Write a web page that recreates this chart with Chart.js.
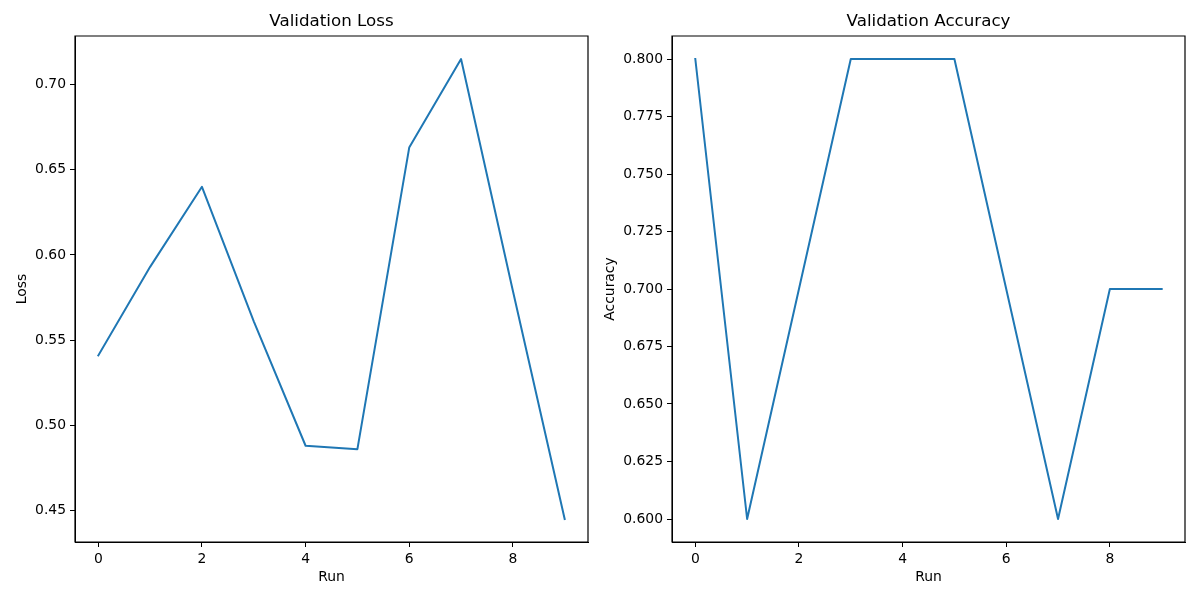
<!DOCTYPE html>
<html>
<head>
<meta charset="utf-8">
<script src="https://cdn.jsdelivr.net/npm/chart.js@4"></script>
<style>
    body { margin: 0; background: #fff; overflow: hidden; }
    .panel { position: absolute; top: 0; width: 600px; height: 600px; }
</style>
</head>
<body>
<div class="panel" style="left:0"><canvas id="lossChart"></canvas></div>
<div class="panel" style="left:600px"><canvas id="accChart"></canvas></div>
<script>
const runs = [0, 1, 2, 3, 4, 5, 6, 7, 8, 9];
const lossValues = [0.541, 0.593, 0.640, 0.561, 0.488, 0.486, 0.663, 0.715, 0.579, 0.445];
const accValues = [0.8, 0.6, 0.7, 0.8, 0.8, 0.8, 0.7, 0.6, 0.7, 0.7];
const runTicks = [0, 2, 4, 6, 8];
const lossTicks = [0.45, 0.50, 0.55, 0.60, 0.65, 0.70];
const accTicks = [0.600, 0.625, 0.650, 0.675, 0.700, 0.725, 0.750, 0.775, 0.800];

const font = 'DejaVu Sans';

// draws the box round the plot, the title and the axis labels like matplotlib does
const framePlugin = {
    id: 'frame',
    afterDraw(chart, args, opts) {
        const { ctx, chartArea: a } = chart;
        const l = Math.round(a.left), r = Math.round(a.right);
        const t = Math.round(a.top), b = Math.round(a.bottom);
        ctx.save();
        ctx.strokeStyle = '#000';
        ctx.lineWidth = 1.2;
        ctx.beginPath();
        ctx.moveTo(l, t);
        ctx.lineTo(r, t);
        ctx.lineTo(r, b);
        ctx.lineTo(l, b);
        ctx.closePath();
        ctx.stroke();
        ctx.fillStyle = '#000';
        ctx.textAlign = 'center';
        ctx.textBaseline = 'middle';
        ctx.font = '16.7px "' + font + '"';
        ctx.fillText(opts.title, (a.left + a.right) / 2, a.top - 14);
        ctx.font = '13.9px "' + font + '"';
        ctx.fillText(opts.xLabel, (a.left + a.right) / 2, a.bottom + 35);
        ctx.translate(a.left - opts.yLabelOffset, (a.top + a.bottom) / 2);
        ctx.rotate(-Math.PI / 2);
        ctx.fillText(opts.yLabel, 0, 0);
        ctx.restore();
    }
};

function makeChart(id, values, yTicks, yMin, yMax, digits, yWidth, rightPad, title, yLabel, yLabelOffset) {
    const ctx = document.getElementById(id).getContext('2d');
    return new Chart(ctx, {
        type: 'line',
        data: {
            datasets: [{
                data: runs.map((r, i) => ({ x: r, y: values[i] })),
                borderColor: '#1f77b4',
                borderWidth: 2,
                borderJoinStyle: 'round',
                borderCapStyle: 'square',
                pointRadius: 0,
                tension: 0,
                fill: false
            }]
        },
        options: {
            responsive: true,
            maintainAspectRatio: false,
            animation: false,
            layout: { padding: { top: 36, right: rightPad, bottom: 0, left: 0 } },
            plugins: {
                legend: { display: false },
                tooltip: { enabled: false },
                frame: { title: title, xLabel: 'Run', yLabel: yLabel, yLabelOffset: yLabelOffset }
            },
            scales: {
                x: {
                    type: 'linear',
                    min: -0.45,
                    max: 9.45,
                    afterBuildTicks: s => { s.ticks = runTicks.map(v => ({ value: v })); },
                    afterFit: s => { s.height = 58; },
                    grid: { drawOnChartArea: false, tickLength: 5, tickColor: '#000' },
                    border: { color: '#000' },
                    ticks: { color: '#000', padding: 4, maxRotation: 0, font: { family: font, size: 13.9 } }
                },
                y: {
                    min: yMin,
                    max: yMax,
                    afterBuildTicks: s => { s.ticks = yTicks.map(v => ({ value: v })); },
                    afterFit: s => { s.width = yWidth; },
                    grid: { drawOnChartArea: false, tickLength: 5, tickColor: '#000' },
                    border: { color: '#000' },
                    ticks: {
                        color: '#000',
                        padding: 4,
                        font: { family: font, size: 13.9 },
                        callback: v => v.toFixed(digits)
                    }
                }
            }
        },
        plugins: [framePlugin]
    });
}

makeChart('lossChart', lossValues, lossTicks, 0.4315, 0.7285, 2, 75, 12, 'Validation Loss', 'Loss', 53);
makeChart('accChart', accValues, accTicks, 0.59, 0.81, 3, 72, 15, 'Validation Accuracy', 'Accuracy', 62);
</script>
</body>
</html>
